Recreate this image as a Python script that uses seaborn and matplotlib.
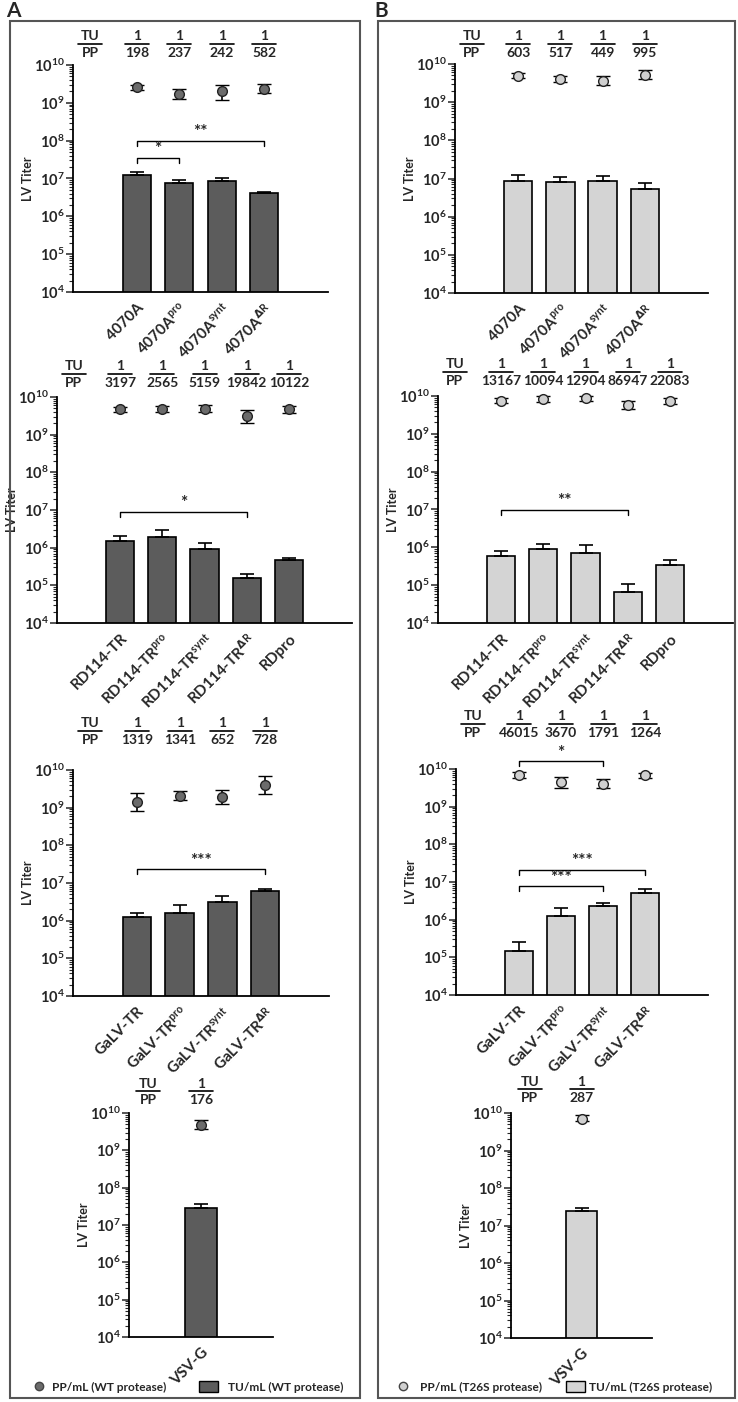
import matplotlib
matplotlib.use("Agg")
import matplotlib.pyplot as plt
import matplotlib.transforms as mtransforms
import numpy as np
import pandas as pd
import seaborn as sns
from matplotlib.lines import Line2D
from matplotlib.patches import Patch, Rectangle
from matplotlib.ticker import FixedLocator, FuncFormatter, LogLocator, NullFormatter

# ---- data ----
names_4070 = ["4070A", r"4070A$^{\mathregular{pro}}$", r"4070A$^{\mathregular{synt}}$", r"4070A$^{\Delta\mathregular{R}}$"]
names_rd114 = ["RD114-TR", r"RD114-TR$^{\mathregular{pro}}$", r"RD114-TR$^{\mathregular{synt}}$",
               r"RD114-TR$^{\Delta\mathregular{R}}$", "RDpro"]
names_galv = ["GaLV-TR", r"GaLV-TR$^{\mathregular{pro}}$", r"GaLV-TR$^{\mathregular{synt}}$", r"GaLV-TR$^{\Delta\mathregular{R}}$"]
names_vsv = ["VSV-G"]

# WT protease (panel A)
wt_4070_tu = [1.26e7, 7.4e6, 8.5e6, 4.2e6]
wt_4070_tu_hi = [1.45e7, 9.4e6, 1.0e7, 4.5e6]
wt_4070_pp = [2.6e9, 1.7e9, 2.0e9, 2.35e9]
wt_4070_pp_lo = [2.15e9, 1.29e9, 1.2e9, 1.78e9]
wt_4070_pp_hi = [3.0e9, 2.35e9, 3.0e9, 3.1e9]
wt_4070_ratio = [198, 237, 242, 582]

wt_rd114_tu = [1.5e6, 1.95e6, 9.4e5, 1.6e5, 4.7e5]
wt_rd114_tu_hi = [2.1e6, 2.9e6, 1.35e6, 2.06e5, 5.2e5]
wt_rd114_pp = [4.8e9, 4.9e9, 4.9e9, 3.2e9, 4.7e9]
wt_rd114_pp_lo = [4.1e9, 4.0e9, 3.9e9, 2.1e9, 3.8e9]
wt_rd114_pp_hi = [5.4e9, 5.9e9, 6.0e9, 4.4e9, 5.8e9]
wt_rd114_ratio = [3197, 2565, 5159, 19842, 10122]

wt_galv_tu = [1.26e6, 1.55e6, 3.2e6, 6.2e6]
wt_galv_tu_hi = [1.55e6, 2.6e6, 4.5e6, 7.1e6]
wt_galv_pp = [1.4e9, 2.1e9, 1.9e9, 4.0e9]
wt_galv_pp_lo = [8.4e8, 1.6e9, 1.26e9, 2.3e9]
wt_galv_pp_hi = [2.45e9, 2.75e9, 2.95e9, 6.9e9]
wt_galv_ratio = [1319, 1341, 652, 728]

wt_vsv_tu = [2.8e7]
wt_vsv_tu_hi = [3.6e7]
wt_vsv_pp = [4.9e9]
wt_vsv_pp_lo = [3.7e9]
wt_vsv_pp_hi = [6.6e9]
wt_vsv_ratio = [176]

# T26S protease (panel B)
mut_4070_tu = [8.7e6, 7.9e6, 8.7e6, 5.4e6]
mut_4070_tu_hi = [1.2e7, 1.07e7, 1.15e7, 7.6e6]
mut_4070_pp = [4.9e9, 4.1e9, 3.6e9, 5.2e9]
mut_4070_pp_lo = [4.2e9, 3.3e9, 2.9e9, 4.1e9]
mut_4070_pp_hi = [5.8e9, 4.9e9, 4.9e9, 6.8e9]
mut_4070_ratio = [603, 517, 449, 995]

mut_rd114_tu = [5.9e5, 8.8e5, 6.9e5, 6.6e4, 3.4e5]
mut_rd114_tu_hi = [7.9e5, 1.2e6, 1.15e6, 1.07e5, 4.7e5]
mut_rd114_pp = [7.4e9, 8.3e9, 8.6e9, 5.8e9, 7.4e9]
mut_rd114_pp_lo = [6.5e9, 7.1e9, 7.2e9, 4.5e9, 6.2e9]
mut_rd114_pp_hi = [8.7e9, 1.0e10, 1.02e10, 7.4e9, 8.8e9]
mut_rd114_ratio = [13167, 10094, 12904, 86947, 22083]

mut_galv_tu = [1.5e5, 1.27e6, 2.3e6, 5.2e6]
mut_galv_tu_hi = [2.5e5, 2.1e6, 2.8e6, 6.4e6]
mut_galv_pp = [6.9e9, 4.6e9, 4.1e9, 6.8e9]
mut_galv_pp_lo = [5.6e9, 3.2e9, 3.2e9, 5.8e9]
mut_galv_pp_hi = [8.5e9, 6.2e9, 5.4e9, 7.9e9]
mut_galv_ratio = [46015, 3670, 1791, 1264]

mut_vsv_tu = [2.5e7]
mut_vsv_tu_hi = [2.9e7]
mut_vsv_pp = [7.1e9]
mut_vsv_pp_lo = [6.0e9]
mut_vsv_pp_hi = [8.7e9]
mut_vsv_ratio = [287]

# significance brackets: (first, last, level, label)
wt_4070_sig = [(0, 1, 3.5e7, "*"), (0, 3, 1.0e8, "**")]
wt_rd114_sig = [(0, 3, 9e6, "*")]
wt_galv_sig = [(0, 3, 2.3e7, "***")]
mut_rd114_sig = [(0, 3, 9.6e6, "**")]
mut_galv_sig = [(0, 2, 1.6e10, "*"), (0, 2, 7.6e6, "***"), (0, 3, 2.1e7, "***")]

W, H = 738, 1402
FONT = ["Lato", "DejaVu Sans"]
WT_BAR, WT_DOT = "#5c5c5c", "#6b6b6b"
MUT_BAR, MUT_DOT = "#d4d4d4", "#d0d0d0"

sns.set_style("ticks")
plt.rcParams["font.family"] = FONT
plt.rcParams["font.weight"] = "bold"
plt.rcParams["axes.labelweight"] = "bold"

fig = plt.figure(figsize=(W / 100, H / 100), dpi=100)


def add_axes_px(left, top, right, bottom):
    return fig.add_axes([left / W, 1 - bottom / H, (right - left) / W, (bottom - top) / H])


def titer_panel(rect, names, tu, tu_hi, pp, pp_lo, pp_hi, ratio, sig, bar_color, dot_color, header_gap):
    ax = add_axes_px(*rect)
    n = len(names)
    ax.set_yscale("log")
    df = pd.DataFrame({"construct": names, "titer": tu})
    sns.barplot(data=df, x="construct", y="titer", color=bar_color, edgecolor="black",
                linewidth=1.2, width=0.67, saturation=1, ax=ax)
    x = np.arange(n)
    tu_arr = np.array(tu)
    ax.errorbar(x, tu_arr, yerr=[np.zeros(n), np.array(tu_hi) - tu_arr], fmt="none",
                ecolor="black", elinewidth=1.2, capsize=5, capthick=1.2, zorder=1)
    pp_arr = np.array(pp)
    ax.errorbar(x, pp_arr, yerr=[pp_arr - np.array(pp_lo), np.array(pp_hi) - pp_arr],
                fmt="o", ms=7, mfc=dot_color, mec="#222222", mew=1.0, ecolor="black",
                elinewidth=1.2, capsize=5, capthick=1.2, zorder=3, clip_on=False)

    ax.set_xlim(-1.5, n + 0.5)
    ax.set_ylim(1e4, 1e10)
    ax.yaxis.set_major_locator(FixedLocator([10.0 ** k for k in range(4, 11)]))
    ax.yaxis.set_major_formatter(FuncFormatter(lambda v, _: r"$\mathregular{10^{%d}}$" % round(np.log10(v))))
    ax.yaxis.set_minor_locator(LogLocator(base=10, subs=np.arange(2, 10), numticks=20))
    ax.yaxis.set_minor_formatter(NullFormatter())
    ax.tick_params(axis="y", which="major", length=5, width=1.1, labelsize=10.5, pad=1)
    ax.tick_params(axis="y", which="minor", length=3, width=0.8)
    ax.tick_params(axis="x", length=0, labelsize=11, pad=6)
    for lab in ax.get_xticklabels():
        lab.set_rotation(45)
        lab.set_ha("right")
        lab.set_va("top")
        lab.set_rotation_mode("anchor")
        lab.set_fontweight("bold")
    ax.set_xlabel("")
    ax.set_ylabel("LV Titer", fontsize=9, fontweight="bold")
    width_px = rect[2] - rect[0]
    height_px = rect[3] - rect[1]
    ax.yaxis.set_label_coords(-39 / width_px, 0.5)
    sns.despine(ax=ax)
    for side in ("left", "bottom"):
        ax.spines[side].set_linewidth(1.3)
        ax.spines[side].set_color("black")

    # significance brackets
    for a, b, level, label in sig:
        tip = level / 1.35
        ax.plot([a, a, b, b], [tip, level, level, tip], color="black", lw=1.0, clip_on=False)
        ax.text((a + b) / 2, level * 1.05, label, ha="center", va="bottom", fontsize=12.5,
                fontweight="bold")

    # TU / PP header
    trans = mtransforms.blended_transform_factory(ax.transData, ax.transAxes)
    line_y = 1 + header_gap / height_px
    half = 12 / (width_px / (n + 2))
    cols = [(-1.1, "TU", "PP")] + [(i, "1", str(r)) for i, r in enumerate(ratio)]
    for cx, top_txt, bot_txt in cols:
        ax.plot([cx - half, cx + half], [line_y, line_y], color="black", lw=1.2,
                transform=trans, clip_on=False)
        ax.text(cx, line_y + 1.5 / height_px, top_txt, ha="center", va="bottom",
                fontsize=10, fontweight="bold", transform=trans)
        ax.text(cx, line_y - 3 / height_px, bot_txt, ha="center", va="top",
                fontsize=10, fontweight="bold", transform=trans)
    return ax


panels = [
    ((73, 65, 328, 292), names_4070, wt_4070_tu, wt_4070_tu_hi, wt_4070_pp, wt_4070_pp_lo,
     wt_4070_pp_hi, wt_4070_ratio, wt_4070_sig, WT_BAR, WT_DOT, 21),
    ((57, 397, 352, 623), names_rd114, wt_rd114_tu, wt_rd114_tu_hi, wt_rd114_pp, wt_rd114_pp_lo,
     wt_rd114_pp_hi, wt_rd114_ratio, wt_rd114_sig, WT_BAR, WT_DOT, 23),
    ((73, 770, 329, 996), names_galv, wt_galv_tu, wt_galv_tu_hi, wt_galv_pp, wt_galv_pp_lo,
     wt_galv_pp_hi, wt_galv_ratio, wt_galv_sig, WT_BAR, WT_DOT, 39),
    ((129, 1113, 273, 1337), names_vsv, wt_vsv_tu, wt_vsv_tu_hi, wt_vsv_pp, wt_vsv_pp_lo,
     wt_vsv_pp_hi, wt_vsv_ratio, [], WT_BAR, WT_DOT, 22),
    ((455, 64, 708, 293), names_4070, mut_4070_tu, mut_4070_tu_hi, mut_4070_pp, mut_4070_pp_lo,
     mut_4070_pp_hi, mut_4070_ratio, [], MUT_BAR, MUT_DOT, 20),
    ((438, 396, 733, 623), names_rd114, mut_rd114_tu, mut_rd114_tu_hi, mut_rd114_pp,
     mut_rd114_pp_lo, mut_rd114_pp_hi, mut_rd114_ratio, mut_rd114_sig, MUT_BAR, MUT_DOT, 24),
    ((456, 769, 708, 995), names_galv, mut_galv_tu, mut_galv_tu_hi, mut_galv_pp, mut_galv_pp_lo,
     mut_galv_pp_hi, mut_galv_ratio, mut_galv_sig, MUT_BAR, MUT_DOT, 45),
    ((511, 1113, 652, 1338), names_vsv, mut_vsv_tu, mut_vsv_tu_hi, mut_vsv_pp, mut_vsv_pp_lo,
     mut_vsv_pp_hi, mut_vsv_ratio, [], MUT_BAR, MUT_DOT, 24),
]
for p in panels:
    titer_panel(*p)

# panel frames and letters
for left, right, letter in [(10, 360, "A"), (378, 735, "B")]:
    fig.patches.append(Rectangle((left / W, 1 - 1398 / H), (right - left) / W, (1398 - 21) / H,
                                 transform=fig.transFigure, fill=False, ec="#555555", lw=1.5))
    fig.text((left - 4) / W, 1 - 11 / H, letter, fontsize=15, fontweight="bold", va="center")

# legend entries: (handle box left px, handle, label, handle length, text pad)
legend_y = 1 - 1387 / H
entries = []
for x_dot, x_box, dot, bar, tag, dot_pad, box_pad in [(35, 199, WT_DOT, WT_BAR, "WT protease", 0.75, 0.8),
                                                      (399, 566, MUT_DOT, MUT_BAR, "T26S protease", 1.1, 0.3)]:
    entries.append((x_dot, Line2D([], [], marker="o", ls="", ms=6, mfc=dot, mec="#444444"),
                    f"PP/mL ({tag})", 0.7, dot_pad))
    entries.append((x_box, Patch(fc=bar, ec="black", lw=1.0), f"TU/mL ({tag})", 1.6, box_pad))
for x0, handle, label, hlen, hpad in entries:
    fig.legend([handle], [label], loc="center left", bbox_to_anchor=(x0 / W, legend_y),
               frameon=False, borderpad=0, borderaxespad=0,
               prop={"family": FONT, "weight": "bold", "size": 8.6},
               handlelength=hlen, handleheight=0.95, handletextpad=hpad)

fig.savefig("out.png", dpi=100)
